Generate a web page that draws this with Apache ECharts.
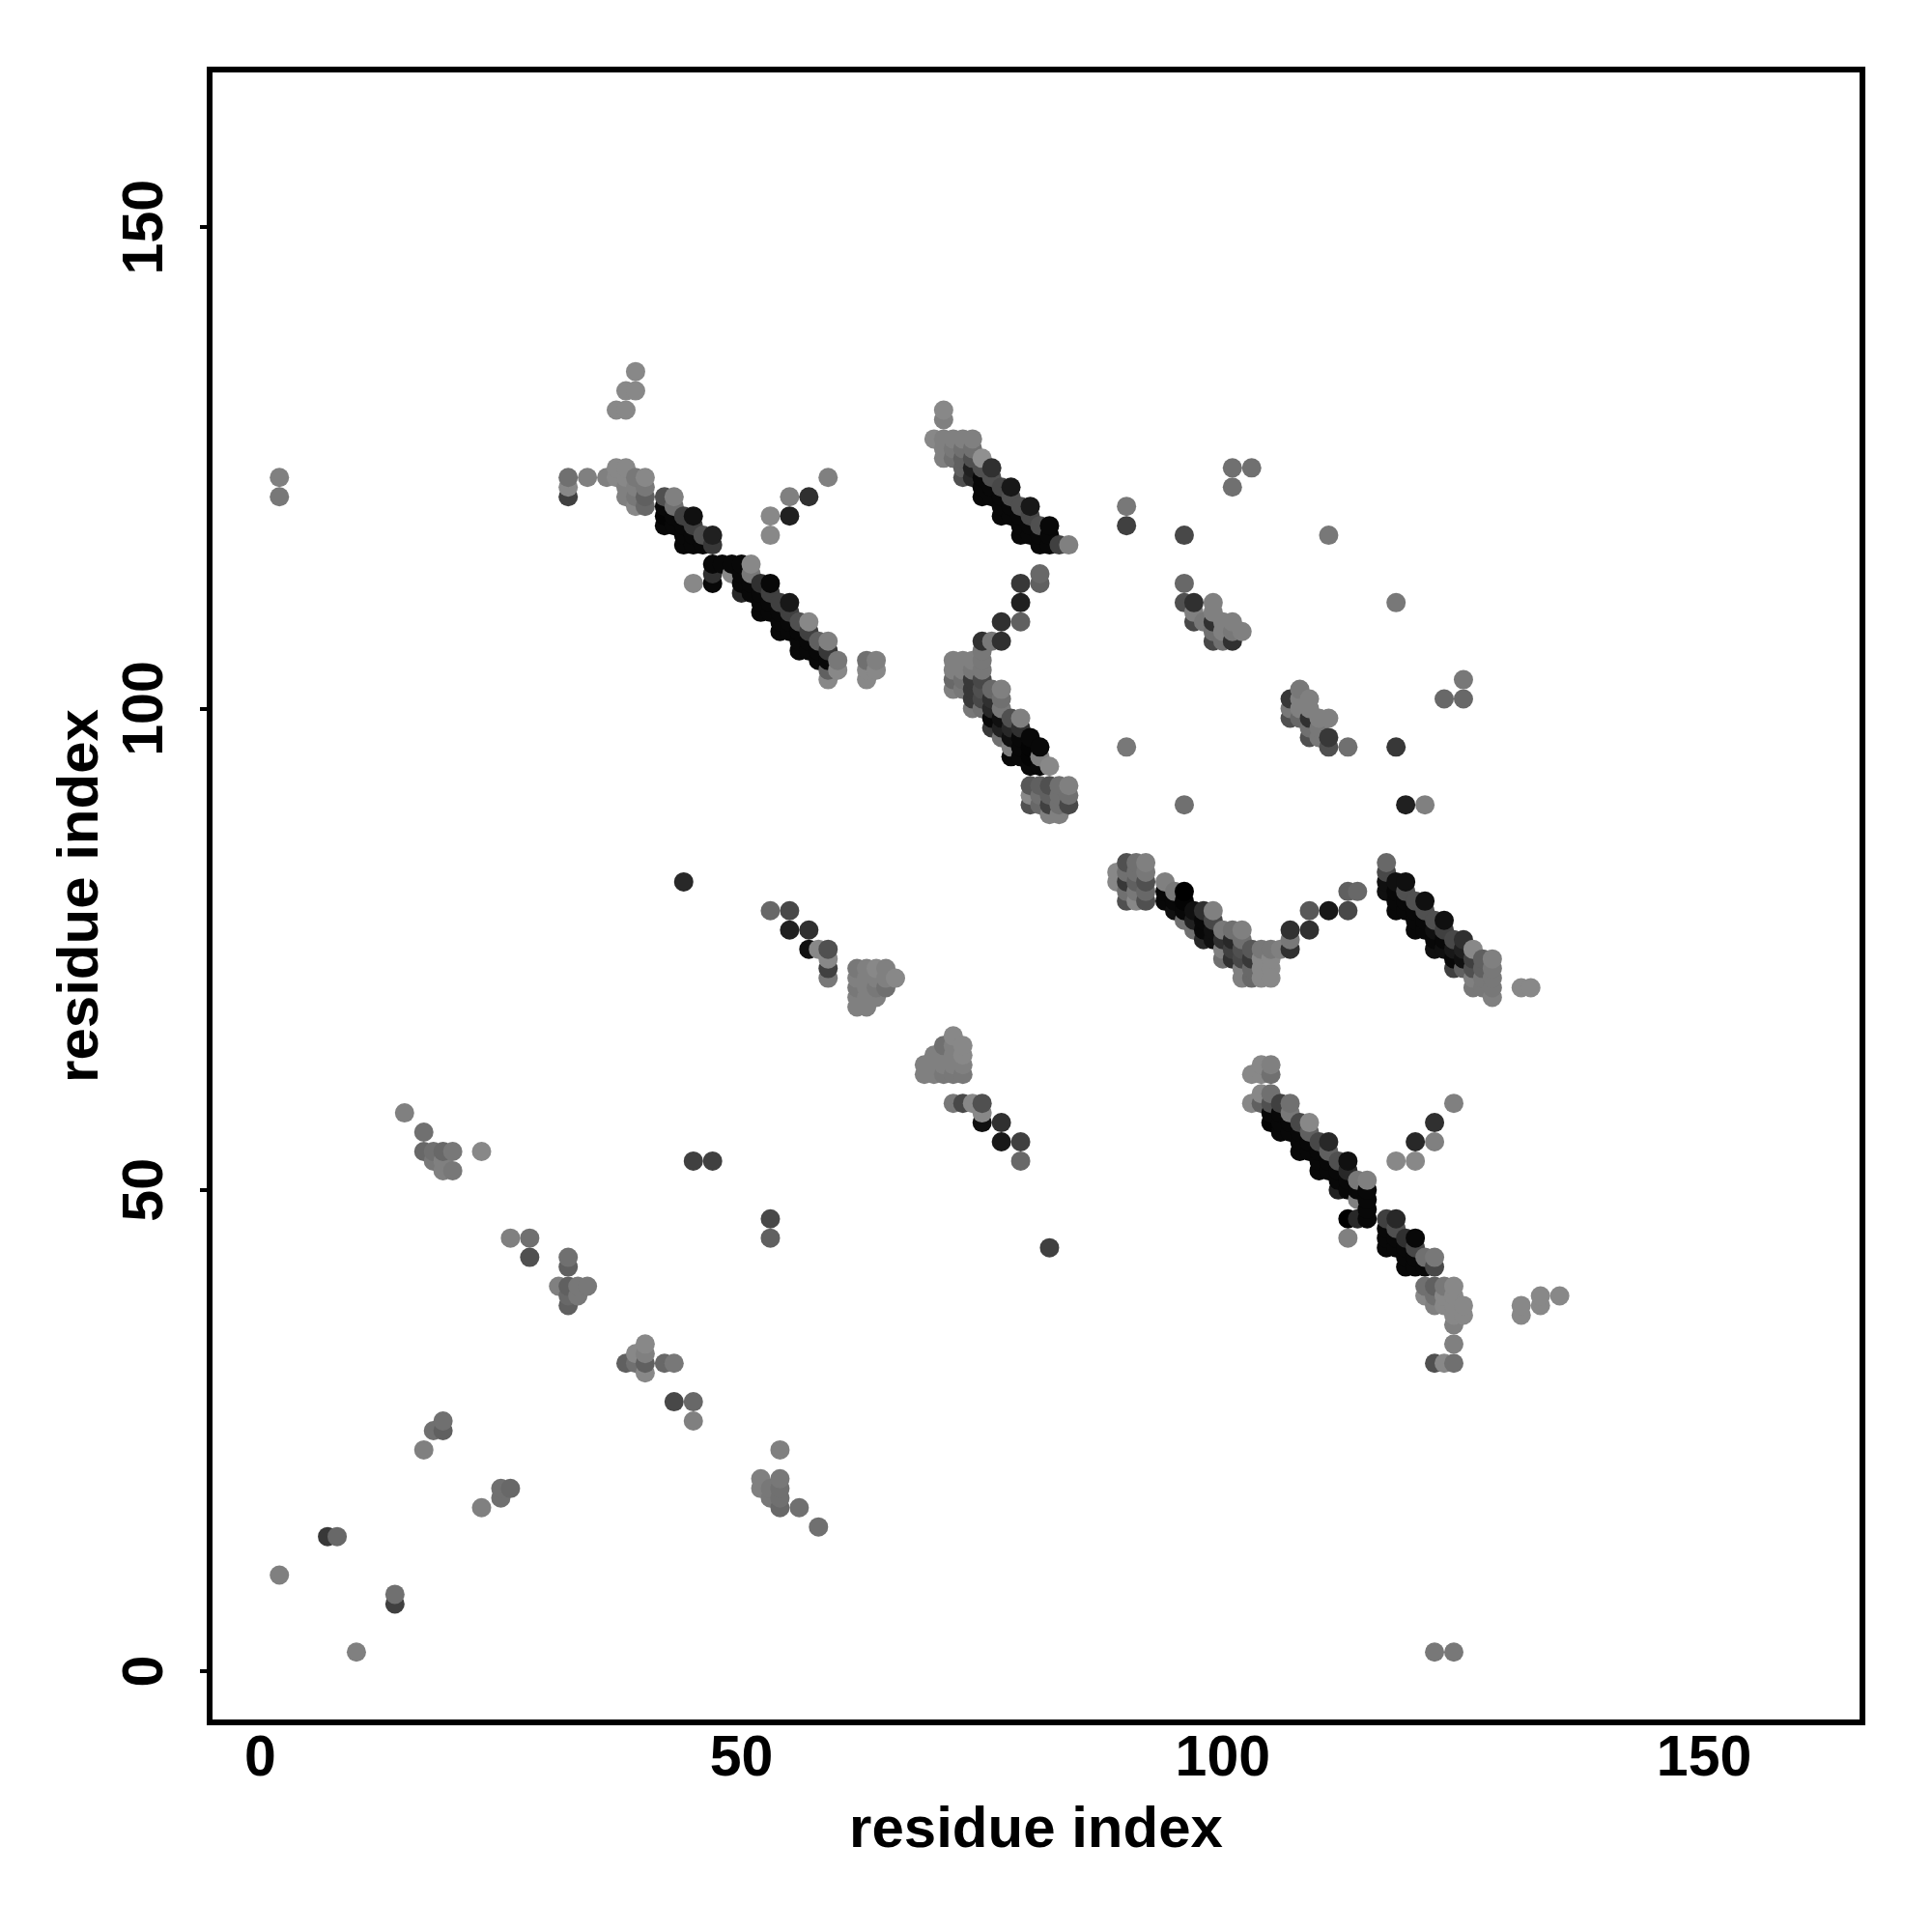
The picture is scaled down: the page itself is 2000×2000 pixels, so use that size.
<!DOCTYPE html>
<html><head><meta charset="utf-8">
<script src="https://cdn.jsdelivr.net/npm/echarts@6/dist/echarts.min.js"></script>
<style>html,body{margin:0;padding:0;background:#fff}#c{width:2000px;height:2000px}</style>
</head><body><div id="c"></div>
<script>
// [residue x, residue y, grey level]
const tickValues=[0,50,100,150];
const axisTitle='residue index';
const strandA=[[32,124,0x70],[32,123,0x88],[32,122,0x40],[34,124,0x80],[36,124,0x80],[37,131,0x88],[38,131,0x88],[38,133,0x88],[39,133,0x88],[39,135,0x88],
[37,125,0x88],[38,125,0x88],[37,124,0x88],[38,124,0x88],[38,123,0x80],[38,122,0x80],[39,124,0x78],[39,123,0x80],[39,122,0x78],[39,121,0x88],[40,124,0x88],[40,123,0x78],[40,122,0x60],[40,121,0x68],
[42,122,0x50],[42,121,0x08],[42,120,0x04],[42,119,0x08],[43,122,0x80],[43,121,0x70],[43,120,0x08],[43,119,0x08],
[44,120,0x40],[44,119,0x08],[44,118,0x08],[44,117,0x08],[45,120,0x10],[45,119,0x40],[45,118,0x08],[45,117,0x08],[46,118,0x50],[46,117,0x08],[47,118,0x20],[47,117,0x38],
[47,115,0x08],[47,114,0x30],[47,113,0x08],[45,113,0x88],[48,115,0x08],[49,115,0x08],[49,114,0x88],[50,115,0x08],[50,114,0x08],[50,113,0x08],[50,112,0x28],[51,115,0x88],[51,114,0x78],[51,113,0x08],[51,112,0x08],
[52,113,0x30],[52,112,0x08],[52,111,0x08],[52,110,0x08],[53,113,0x08],[53,112,0x40],[53,111,0x08],[53,110,0x08],[54,111,0x40],[54,110,0x08],[54,109,0x08],[54,108,0x08],[55,111,0x18],[55,110,0x40],[55,109,0x08],[55,108,0x08],
[56,109,0x50],[56,108,0x08],[56,107,0x08],[56,106,0x08],[57,109,0x88],[57,108,0x40],[57,107,0x08],[57,106,0x08],[58,107,0x60],[58,106,0x08],[58,105,0x08],[59,107,0x80],[59,106,0x38],[59,105,0x08],[59,104,0x60],[59,103,0x88],
[60,105,0x78],[60,104,0x88],[63,105,0x70],[64,105,0x80],[63,104,0x88],[64,104,0x88],[63,103,0x88],
[59,124,0x80],[55,122,0x80],[57,122,0x30],[53,120,0x88],[55,120,0x20],[53,118,0x88]];
const strandB=[[71,131,0x88],[71,130,0x80],[70,128,0x88],[71,128,0x80],[72,128,0x80],[73,128,0x80],[74,128,0x80],[71,127,0x80],[71,126,0x80],[72,127,0x78],[72,126,0x70],
[73,127,0x70],[73,126,0x60],[73,125,0x60],[73,124,0x50],[74,127,0x70],[74,126,0x50],[74,125,0x20],[74,124,0x28],[75,126,0x90],[75,125,0x50],[75,124,0x08],[75,123,0x08],[75,122,0x08],
[76,125,0x30],[76,124,0x50],[76,123,0x08],[76,122,0x08],[77,123,0x48],[77,122,0x08],[77,121,0x08],[77,120,0x08],[78,123,0x18],[78,122,0x50],[78,121,0x08],[78,120,0x08],
[79,121,0x50],[79,120,0x08],[79,119,0x08],[79,118,0x08],[80,121,0x18],[80,120,0x48],[80,119,0x08],[80,118,0x08],[81,119,0x50],[81,118,0x08],[81,117,0x08],[82,119,0x08],[82,118,0x08],[82,117,0x08],[83,117,0x40],[84,117,0x80],
[81,114,0x68],[81,113,0x60],[79,113,0x38],[79,111,0x20],[77,109,0x30],[79,109,0x60],[75,107,0x30],[76,107,0x78],[77,107,0x30],[75,106,0x78],
[72,105,0x80],[73,105,0x80],[74,105,0x80],[75,105,0x78],[72,104,0x80],[72,103,0x68],[72,102,0x80],[73,104,0x80],[73,103,0x70],[73,102,0x78],[74,104,0x78],[74,103,0x38],[74,102,0x38],[74,101,0x38],[74,100,0x78],
[75,104,0x78],[75,103,0x48],[75,102,0x50],[75,101,0x48],[75,100,0x70],[76,102,0x68],[76,101,0x30],[76,100,0x28],[76,99,0x08],[76,98,0x38],[77,102,0x80],[77,101,0x70],[77,100,0x78],[77,99,0x10],[77,98,0x20],[77,97,0x70],
[78,99,0x50],[78,98,0x28],[78,97,0x10],[78,96,0x80],[78,95,0x08],[79,99,0x80],[79,98,0x30],[79,97,0x08],[79,96,0x08],[79,95,0x08],[80,97,0x08],[80,96,0x04],[80,95,0x04],[80,94,0x08],[81,96,0x08],[81,95,0x80],[81,94,0x08],[82,94,0x88],
[80,92,0x58],[81,92,0x60],[82,92,0x50],[83,92,0x70],[84,92,0x80],[80,91,0x88],[81,91,0x70],[82,91,0x60],[83,91,0x70],[84,91,0x70],[80,90,0x50],[81,90,0x68],[82,90,0x40],[83,90,0x70],[84,90,0x48],[82,89,0x80],[83,89,0x80]];
const strandC=[[89,83,0x88],[89,82,0x88],[90,84,0x50],[90,83,0x70],[90,82,0x38],[90,81,0x70],[90,80,0x50],[91,84,0x70],[91,83,0x70],[91,82,0x60],[91,81,0x78],[91,80,0x88],[92,84,0x80],[92,83,0x78],[92,82,0x50],[92,81,0x68],[92,80,0x50],
[94,82,0x80],[94,81,0x08],[94,80,0x08],[95,81,0x78],[95,80,0x08],[95,79,0x10],[96,81,0x00],[96,80,0x04],[96,79,0x08],[96,78,0x70],[97,79,0x10],[97,78,0x20],[97,77,0x70],[98,79,0x30],[98,78,0x08],[98,77,0x08],[98,76,0x28],[99,79,0x80],[99,78,0x48],[99,77,0x10],[99,76,0x10],
[100,77,0x78],[100,76,0x30],[100,75,0x80],[100,74,0x70],[101,77,0x70],[101,76,0x28],[101,75,0x40],[101,74,0x30],[102,77,0x80],[102,76,0x70],[102,75,0x50],[102,74,0x48],[102,73,0x80],[102,72,0x80],
[103,75,0x58],[103,74,0x38],[103,73,0x68],[103,72,0x68],[104,75,0x78],[104,74,0x88],[104,73,0x88],[104,72,0x88],[105,75,0x78],[105,74,0x88],[105,73,0x88],[105,72,0x88],[106,75,0x80],[107,77,0x30],[107,76,0x78],[107,75,0x30],[109,79,0x58],[109,77,0x30],[111,79,0x18],[113,79,0x48],[113,81,0x60],[114,81,0x68],
[117,84,0x68],[117,83,0x48],[117,82,0x10],[117,81,0x10],[118,82,0x10],[118,81,0x08],[118,80,0x08],[118,79,0x08],[119,82,0x10],[119,81,0x50],[119,80,0x08],[119,79,0x08],[120,80,0x50],[120,79,0x08],[120,78,0x08],[120,77,0x08],[121,80,0x10],[121,79,0x50],[121,78,0x08],[121,77,0x08],
[122,78,0x50],[122,77,0x10],[122,76,0x08],[122,75,0x10],[123,78,0x10],[123,77,0x40],[123,76,0x08],[123,75,0x10],[124,76,0x48],[124,75,0x18],[124,74,0x08],[124,73,0x40],[125,76,0x30],[125,75,0x20],[125,74,0x10],[125,73,0x60],
[126,75,0x88],[126,74,0x40],[126,73,0x50],[126,72,0x80],[126,71,0x78],[127,74,0x60],[127,73,0x60],[127,72,0x78],[127,71,0x78],[128,74,0x80],[128,73,0x78],[128,72,0x78],[128,71,0x78],[128,70,0x80],[131,71,0x88],[132,71,0x88]];
const strandD=[[104,63,0x88],[105,63,0x80],[103,62,0x88],[104,62,0x88],[105,62,0x70],[104,60,0x88],[105,60,0x70],[103,59,0x88],[104,59,0x60],[105,59,0x50],[105,58,0x08],[105,57,0x04],[106,59,0x40],[106,58,0x08],[106,57,0x08],[106,56,0x08],[107,59,0x70],[107,58,0x78],[107,57,0x08],[107,56,0x08],
[108,57,0x48],[108,56,0x08],[108,55,0x08],[108,54,0x08],[109,57,0x88],[109,56,0x60],[109,55,0x08],[109,54,0x08],[110,55,0x48],[110,54,0x08],[110,53,0x08],[110,52,0x08],[111,55,0x28],[111,54,0x60],[111,53,0x08],[111,52,0x08],
[112,53,0x50],[112,52,0x08],[112,51,0x08],[112,50,0x20],[113,53,0x10],[113,52,0x28],[113,51,0x08],[113,50,0x08],[113,47,0x00],[113,45,0x80],[114,51,0x78],[114,50,0x08],[114,49,0x80],[114,47,0x28],[115,51,0x80],[115,50,0x08],[115,49,0x08],[115,48,0x08],[115,47,0x08],
[124,59,0x80],[122,57,0x30],[120,55,0x28],[122,55,0x80],[118,53,0x88],[120,53,0x88],
[117,47,0x40],[117,46,0x08],[117,45,0x08],[117,44,0x08],[118,47,0x28],[118,46,0x50],[118,45,0x08],[118,44,0x08],[119,45,0x30],[119,44,0x08],[119,43,0x08],[119,42,0x08],[120,45,0x08],[120,44,0x48],[120,43,0x08],[120,42,0x08],[121,43,0x70],[121,42,0x08],[122,43,0x78],[122,42,0x48],
[121,40,0x70],[122,40,0x60],[123,40,0x78],[124,40,0x88],[121,39,0x88],[122,39,0x70],[123,39,0x88],[124,39,0x88],[122,38,0x80],[123,38,0x88],[124,38,0x88],[125,38,0x88],[124,37,0x88],[125,37,0x88],[124,36,0x80],[124,34,0x80],[122,32,0x50],[123,32,0x88],[124,32,0x70],
[131,38,0x88],[131,37,0x88],[133,39,0x88],[133,38,0x88],[135,39,0x88]];
const turnE=[[53,79,0x68],[55,79,0x48],[55,77,0x20],[57,77,0x30],[57,75,0x10],[58,75,0x88],[59,75,0x50],[59,74,0x88],[59,73,0x40],[59,72,0x78],
[62,73,0x78],[62,72,0x80],[62,71,0x78],[62,70,0x80],[62,69,0x80],[63,73,0x80],[63,72,0x80],[63,71,0x80],[63,70,0x80],[63,69,0x80],[64,73,0x88],[64,72,0x80],[64,71,0x78],[64,70,0x80],[65,73,0x80],[65,72,0x80],[65,71,0x70],[66,72,0x88],
[72,66,0x88],[71,65,0x70],[72,65,0x80],[73,65,0x88],[70,64,0x80],[71,64,0x80],[72,64,0x80],[73,64,0x88],[69,63,0x80],[70,63,0x80],[71,63,0x80],[72,63,0x80],[73,63,0x80],[69,62,0x80],[70,62,0x80],[71,62,0x78],[72,62,0x78],[73,62,0x78],
[72,59,0x78],[73,59,0x48],[74,59,0x88],[75,59,0x50],[75,58,0x88],[75,57,0x10],[77,57,0x30],[77,55,0x18],[79,55,0x40],[79,53,0x68]];
const patchF=[[96,113,0x68],[96,111,0x50],[97,111,0x30],[99,111,0x80],[99,110,0x80],[97,110,0x80],[97,109,0x48],[98,109,0x78],[99,109,0x30],[100,109,0x80],[101,109,0x80],[102,108,0x80],[101,108,0x78],[100,108,0x80],[99,108,0x70],[99,107,0x48],[100,107,0x70],[101,107,0x30],
[107,101,0x38],[108,102,0x78],[108,101,0x80],[109,101,0x80],[107,100,0x78],[108,100,0x80],[109,100,0x80],[107,99,0x50],[108,99,0x68],[109,99,0x30],[110,99,0x80],[111,99,0x80],[109,98,0x70],[110,98,0x78],[109,97,0x50],[110,97,0x78],[111,97,0x38],[111,96,0x50],[113,96,0x70]];
const lowerG=[[15,58,0x80],[17,56,0x70],[17,54,0x68],[18,54,0x70],[19,54,0x68],[20,54,0x78],[23,54,0x88],[18,53,0x78],[19,53,0x80],[19,52,0x80],[20,52,0x78],
[26,45,0x80],[28,45,0x70],[28,43,0x50],[32,43,0x70],[32,42,0x60],[31,40,0x80],[32,40,0x60],[33,40,0x78],[34,40,0x78],[33,39,0x78],[32,39,0x68],[32,38,0x60],
[38,32,0x60],[39,32,0x70],[40,32,0x60],[40,31,0x88],[40,33,0x80],[39,33,0x88],[40,34,0x88],[42,32,0x68],[43,32,0x78],[43,28,0x48],[45,28,0x68],[45,26,0x80],
[54,23,0x80],[52,20,0x80],[54,20,0x78],[52,19,0x80],[53,19,0x78],[54,19,0x70],[53,18,0x78],[54,18,0x70],[54,17,0x68],[56,17,0x70],[58,15,0x70]];
const sparseH=[[2,124,0x80],[2,122,0x78],[90,121,0x78],[90,119,0x40],[96,118,0x48],[101,125,0x70],[101,123,0x70],[103,125,0x70],[111,118,0x78],[118,111,0x78],[125,103,0x78],[123,101,0x68],[125,101,0x68],
[90,96,0x78],[118,96,0x38],[96,90,0x70],[119,90,0x20],[121,90,0x80],[44,82,0x28],[45,53,0x40],[47,53,0x40],[53,47,0x48],[53,45,0x60],[82,44,0x40],
[17,23,0x80],[18,25,0x70],[19,26,0x70],[19,25,0x60],[23,17,0x80],[25,18,0x70],[25,19,0x70],[26,19,0x68],[7,14,0x38],[8,14,0x68],[2,10,0x80],[14,8,0x70],[14,7,0x40],[10,2,0x80],[122,2,0x78],[124,2,0x78]];

const contacts=[...strandA,...strandB,...strandC,...strandD,...turnE,...patchF,...lowerG,...sparseH]
  .sort((a,b)=>a[0]-b[0]||a[1]-b[1]);

const font={fontFamily:'"Liberation Sans"',fontWeight:'bold',fontSize:60,color:'#000'};
const tickFont=Object.assign({},font,{fontSize:59});
const mkAxis=(extra)=>Object.assign({
  type:'value',splitLine:{show:false},axisLine:{show:false,onZero:false},
  name:axisTitle,nameLocation:'middle',nameTextStyle:font
},extra);
const chart=echarts.init(document.getElementById('c'),null,{renderer:'canvas'});
chart.setOption({
  animation:false,backgroundColor:'#fff',
  grid:{left:217,top:72,width:1711,height:1711,show:true,borderColor:'#000',borderWidth:6,backgroundColor:'transparent'},
  xAxis:mkAxis({min:-5.25,max:166.45,nameGap:82,
    axisTick:{show:false},
    axisLabel:Object.assign({},tickFont,{margin:9,customValues:tickValues})}),
  yAxis:mkAxis({min:-5.3,max:166.37,nameGap:100,
    axisTick:{show:true,length:10,lineStyle:{color:'#000',width:4},customValues:tickValues},
    axisLabel:Object.assign({},tickFont,{rotate:90,margin:36,customValues:tickValues,verticalAlign:'bottom',align:'center'})}),
  series:[{type:'scatter',symbol:'circle',symbolSize:20,data:contacts,silent:true,
    itemStyle:{opacity:1,color:p=>{const g=p.data[2];return `rgb(${g},${g},${g})`;}}}]
});
</script></body></html>
